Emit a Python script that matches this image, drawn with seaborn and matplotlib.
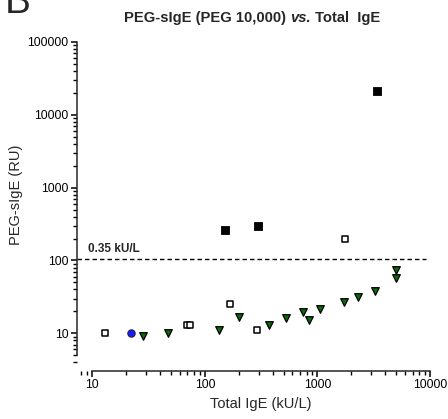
import matplotlib
matplotlib.use("Agg")
import numpy as np
import pandas as pd
import matplotlib.pyplot as plt
import seaborn as sns
from matplotlib.ticker import LogLocator, NullFormatter, FixedLocator, FixedFormatter

# --- DATA ---
open_x = [13, 69, 74, 167, 293, 1755]
open_y = [10, 13, 13, 25, 11, 195]
filled_x = [151, 294, 3380]
filled_y = [262, 300, 21300]
blue_x = [22]
blue_y = [10]
tri_x = [28, 47, 133, 202, 373, 525, 739, 846, 1052, 1709, 2291, 3243, 4946, 4946]
tri_y = [9.2, 10, 11.1, 16.9, 12.9, 16.1, 19.4, 15.2, 21.4, 27.2, 31.3, 38.5, 74, 57]
cutoff = 105
cutoff_label = "0.35 kU/L"
y_ticks = [10, 100, 1000, 10000, 100000]
x_ticks = [10, 100, 1000, 10000]

# --- STYLE ---
sns.set_theme(style="ticks")
plt.rcParams['font.family'] = ['Liberation Sans', 'DejaVu Sans']
plt.rcParams['axes.linewidth'] = 1.1

fig = plt.figure(figsize=(4.48, 4.19), dpi=100)
ax = fig.add_axes([77 / 448, 48 / 419, 353 / 448, 329 / 419])

# --- POINTS ---
df_open = pd.DataFrame({'x': open_x, 'y': open_y})
df_filled = pd.DataFrame({'x': filled_x, 'y': filled_y})
df_blue = pd.DataFrame({'x': blue_x, 'y': blue_y})
df_tri = pd.DataFrame({'x': tri_x, 'y': tri_y})

sns.scatterplot(data=df_open, x='x', y='y', ax=ax, marker='s', s=24,
                facecolor='white', edgecolor='black', linewidth=1.1, zorder=3)
sns.scatterplot(data=df_filled, x='x', y='y', ax=ax, marker='s', s=26,
                color='black', edgecolor='black', linewidth=0.6, zorder=3)
sns.scatterplot(data=df_blue, x='x', y='y', ax=ax, marker='o', s=28,
                color='#1a1aff', edgecolor='#202040', linewidth=0.8, zorder=3)
sns.scatterplot(data=df_tri, x='x', y='y', ax=ax, marker='v', s=30,
                color='#0b6b0b', edgecolor='black', linewidth=0.9, zorder=3)

# --- CUTOFF LINE ---
ax.axhline(cutoff, xmin=0, xmax=0.99, color='black', linestyle=(0, (3.2, 2.2)), linewidth=1.0)
ax.text(0.031, cutoff * 1.13, cutoff_label, transform=ax.get_yaxis_transform(),
        fontsize=8.5, fontweight='bold', ha='left', va='bottom')

# --- AXES ---
ax.set_xscale('log')
ax.set_yscale('log')
ax.set_xlim(7.3, 10000)
ax.set_ylim(10 ** 0.482, 100000)

ax.xaxis.set_major_locator(FixedLocator(x_ticks))
ax.xaxis.set_major_formatter(FixedFormatter([str(v) for v in x_ticks]))
ax.yaxis.set_major_locator(FixedLocator(y_ticks))
ax.yaxis.set_major_formatter(FixedFormatter([str(v) for v in y_ticks]))
ax.xaxis.set_minor_locator(LogLocator(base=10, subs=np.arange(2, 10)))
ax.yaxis.set_minor_locator(LogLocator(base=10, subs=np.arange(2, 10)))
ax.xaxis.set_minor_formatter(NullFormatter())
ax.yaxis.set_minor_formatter(NullFormatter())

ax.spines['top'].set_visible(False)
ax.spines['right'].set_visible(False)
ax.spines['left'].set_bounds(5, 100000)
ax.spines['bottom'].set_bounds(10, 10000)

ax.tick_params(axis='both', which='major', direction='out', length=4.5, width=1.1,
               labelsize=8.8, pad=1.5, colors='black')
ax.tick_params(axis='both', which='minor', direction='out', length=3, width=1.0,
               colors='black')
ax.set_xlabel("Total IgE (kU/L)", fontsize=10.5)
ax.set_ylabel("PEG-sIgE (RU)", fontsize=10.5)
ax.xaxis.set_label_coords(0.521, -0.08)
ax.yaxis.set_label_coords(-0.152, 0.535)
ax.grid(False)

# --- TITLE (mixed bold / bold italic) ---
fig.canvas.draw()
renderer = fig.canvas.get_renderer()
parts = [("PEG-sIgE (PEG 10,000) ", 'normal'), ("vs.", 'italic'), (" Total  IgE", 'normal')]
texts = []
for s, style in parts:
    t = fig.text(0, 0, s, fontsize=10.6, fontweight='bold', fontstyle=style,
                 ha='left', va='baseline')
    texts.append(t)
widths = [t.get_window_extent(renderer).width for t in texts]
total = sum(widths)
x0 = 252 - total / 2
base_y = 419 - 22
for t, w in zip(texts, widths):
    t.set_position((x0 / 448, base_y / 419))
    x0 += w

# Panel letter, cut by the top edge as in the source figure
fig.text(5 / 448, (419 - 13) / 419, "B", fontsize=28, ha='left', va='baseline')

fig.savefig("out.png", dpi=100)
